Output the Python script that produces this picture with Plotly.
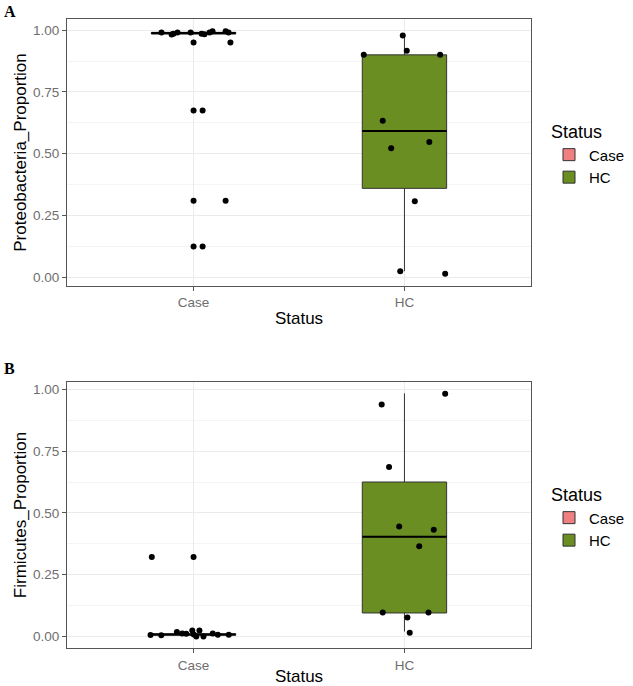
import plotly.graph_objects as go

W, H = 633, 686
OFF = 0  # body margin removed via post_script below

categories = ["Case", "HC"]
cat_pos = [1, 2]

# Panel A: Proteobacteria proportion (values, horizontal jitter in category units)
proteo_case_vals = [0.99, 0.982, 0.985, 0.99, 0.99, 0.985, 0.983, 0.99, 0.995, 0.995, 0.99,
                    0.95, 0.95, 0.675, 0.675, 0.31, 0.31, 0.125, 0.125]
proteo_case_jit = [-0.152, -0.104, -0.095, -0.076, -0.014, 0.038, 0.052, 0.076, 0.090, 0.152, 0.166,
                   0.0, 0.175, 0.0, 0.043, 0.0, 0.152, 0.0, 0.043]
proteo_hc_vals = [0.978, 0.917, 0.90, 0.90, 0.633, 0.522, 0.547, 0.308, 0.025, 0.015]
proteo_hc_jit = [-0.008, 0.011, -0.193, 0.169, -0.103, -0.063, 0.118, 0.049, -0.020, 0.193]
# box stats: lowerfence, q1, median, q3, upperfence
proteo_case_box = [0.982, 0.984, 0.988, 0.991, 0.995]
proteo_hc_box = [0.025, 0.36, 0.592, 0.90, 0.978]

# Panel B: Firmicutes proportion
firm_case_vals = [0.322, 0.322, 0.006, 0.005, 0.018, 0.012, 0.011, 0.024, 0.008, 0.0, 0.024,
                  0.0, 0.012, 0.007, 0.007]
firm_case_jit = [-0.198, 0.0, -0.204, -0.153, -0.079, -0.054, -0.035, -0.006, 0.001, 0.013, 0.028,
                 0.047, 0.091, 0.115, 0.167]
firm_hc_vals = [0.982, 0.939, 0.686, 0.445, 0.432, 0.365, 0.097, 0.097, 0.077, 0.015]
firm_hc_jit = [0.193, -0.108, -0.073, -0.025, 0.139, 0.070, -0.103, 0.114, 0.014, 0.025]
firm_case_box = [0.0, 0.005, 0.008, 0.011, 0.018]
firm_hc_box = [0.02, 0.095, 0.403, 0.625, 0.984]

colors = {"Case": "#F08080", "HC": "#6B8E23"}
BOX_W = 0.4

fig = go.Figure()


def add_panel(row, case_box, hc_box, case_vals, case_jit, hc_vals, hc_jit, legend_name):
    xa = "x" if row == 1 else "x2"
    ya = "y" if row == 1 else "y2"
    for cat, pos, st in [("Case", 1, case_box), ("HC", 2, hc_box)]:
        fig.add_trace(go.Box(
            x=[pos], lowerfence=[st[0]], q1=[st[1]], median=[st[2]], q3=[st[3]], upperfence=[st[4]],
            width=BOX_W, whiskerwidth=0, name=cat, fillcolor=colors[cat],
            line=dict(color="#333333", width=1), boxpoints=False,
            xaxis=xa, yaxis=ya, legend=legend_name, showlegend=True,
        ))
        # thicker median line like ggplot
        fig.add_trace(go.Scatter(
            x=[pos - BOX_W / 2, pos + BOX_W / 2], y=[st[2], st[2]], mode="lines",
            line=dict(color="black", width=2), showlegend=False, hoverinfo="skip",
            xaxis=xa, yaxis=ya,
        ))
    for pos, vals, jit in [(1, case_vals, case_jit), (2, hc_vals, hc_jit)]:
        fig.add_trace(go.Scatter(
            x=[pos + j for j in jit], y=vals, mode="markers",
            marker=dict(color="black", size=6), showlegend=False,
            xaxis=xa, yaxis=ya, hoverinfo="y",
        ))


add_panel(1, proteo_case_box, proteo_hc_box, proteo_case_vals, proteo_case_jit,
          proteo_hc_vals, proteo_hc_jit, "legend")
add_panel(2, firm_case_box, firm_hc_box, firm_case_vals, firm_case_jit,
          firm_hc_vals, firm_hc_jit, "legend2")

font_family = "Liberation Sans, Arial, sans-serif"
tick_font = dict(family=font_family, size=13.5, color="#6e6e6e")
title_font = dict(family=font_family, size=17, color="black")


def px_x(p):
    return (p - OFF) / W


def px_y(p):
    return 1 - (p - OFF) / H


xdom = [px_x(67), px_x(531)]
common_x = dict(
    range=[0.4, 2.6], tickvals=cat_pos, ticktext=categories, showgrid=True, gridcolor="#EBEBEB",
    gridwidth=1, zeroline=False, showline=True, linecolor="#555555", linewidth=1, mirror=True,
    ticks="outside", ticklen=4, tickcolor="#555555", tickfont=tick_font,
    title=dict(text="Status", font=title_font, standoff=2), automargin=False,
)
common_y = dict(
    tickvals=[0, 0.25, 0.5, 0.75, 1.0], ticktext=["0.00", "0.25", "0.50", "0.75", "1.00"],
    showgrid=True, gridcolor="#EBEBEB", gridwidth=1, zeroline=False, showline=True,
    linecolor="#555555", linewidth=1, mirror=True, ticks="outside", ticklen=4,
    tickcolor="#555555", tickfont=tick_font, automargin=False,
    minor=dict(tickvals=[0.125, 0.375, 0.625, 0.875], showgrid=True, gridcolor="#F4F4F4",
               gridwidth=1, ticks=""),
)

legend_common = dict(
    xanchor="left", yanchor="top",
    title=dict(text="Status", font=dict(family=font_family, size=18, color="black")),
    font=dict(family=font_family, size=15, color="black"), bgcolor="rgba(0,0,0,0)",
    tracegroupgap=0,
)

fig.update_layout(
    width=W, height=H, margin=dict(l=0, r=0, t=0, b=0),
    paper_bgcolor="white", plot_bgcolor="white",
    xaxis=dict(domain=xdom, anchor="y", **common_x),
    yaxis=dict(domain=[px_y(286), px_y(19)], anchor="x", range=[-0.035, 1.045],
               title=dict(text="Proteobacteria_Proportion", font=title_font, standoff=2),
               **common_y),
    xaxis2=dict(domain=xdom, anchor="y2", **common_x),
    yaxis2=dict(domain=[px_y(648.3), px_y(381.7)], anchor="x2", range=[-0.048, 1.031],
                title=dict(text="Firmicutes_Proportion", font=title_font, standoff=2),
                **common_y),
    legend=dict(x=px_x(549), y=px_y(115), **legend_common),
    legend2=dict(x=px_x(549), y=px_y(478), **legend_common),
    annotations=[
        dict(text="<b>A</b>", x=px_x(2), y=px_y(1), xref="paper", yref="paper", xanchor="left",
             yanchor="top", showarrow=False,
             font=dict(family="Liberation Serif, Times New Roman, serif", size=16, color="black")),
        dict(text="<b>B</b>", x=px_x(2), y=px_y(358), xref="paper", yref="paper", xanchor="left",
             yanchor="top", showarrow=False,
             font=dict(family="Liberation Serif, Times New Roman, serif", size=16, color="black")),
    ],
)

fig.write_html("out.html", config={"displayModeBar": False},
               post_script="document.body.style.margin='0px';document.body.style.overflow='hidden';")
